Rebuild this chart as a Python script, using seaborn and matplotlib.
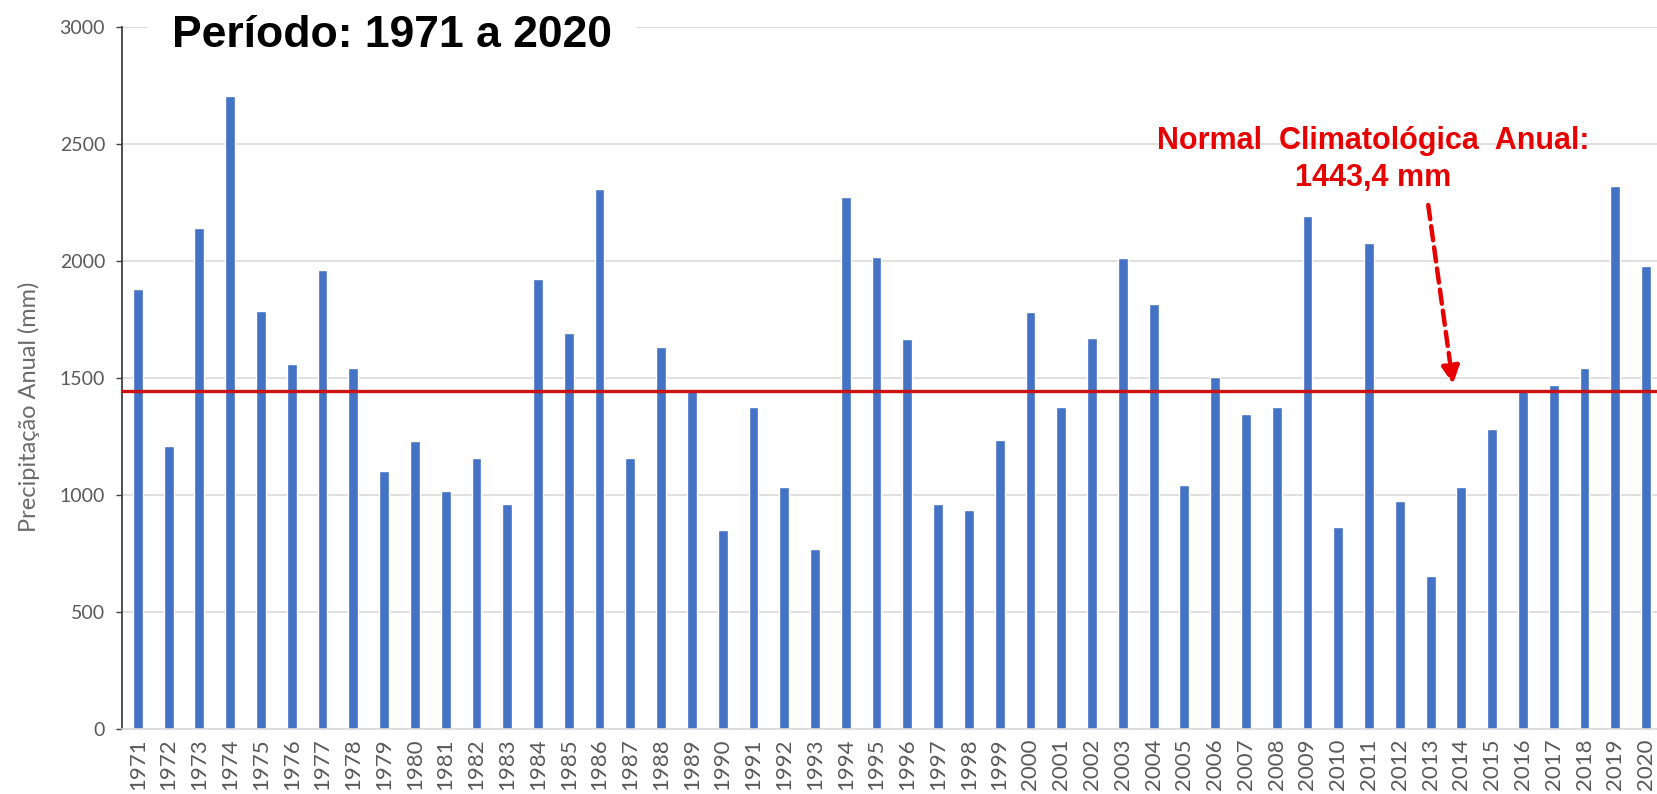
import matplotlib
matplotlib.use("Agg")
import matplotlib.pyplot as plt
import seaborn as sns
import pandas as pd

# dados
anos = ["1971", "1972", "1973", "1974", "1975", "1976", "1977", "1978", "1979", "1980",
        "1981", "1982", "1983", "1984", "1985", "1986", "1987", "1988", "1989", "1990",
        "1991", "1992", "1993", "1994", "1995", "1996", "1997", "1998", "1999", "2000",
        "2001", "2002", "2003", "2004", "2005", "2006", "2007", "2008", "2009", "2010",
        "2011", "2012", "2013", "2014", "2015", "2016", "2017", "2018", "2019", "2020"]
precipitacao = [1882, 1209, 2140, 2705, 1787, 1562, 1960, 1544, 1102, 1229,
                1018, 1159, 961, 1923, 1691, 2307, 1159, 1632, 1443, 852,
                1378, 1036, 769, 2274, 2018, 1665, 961, 935, 1237, 1781,
                1378, 1671, 2011, 1818, 1043, 1505, 1345, 1378, 2191, 863,
                2076, 973, 653, 1036, 1281, 1443, 1472, 1544, 2320, 1980]
yticks = [0, 500, 1000, 1500, 2000, 2500, 3000]
normal = 1443.4

df = pd.DataFrame({"ano": anos, "precipitacao": precipitacao})

sns.set_style("white")
plt.rcParams["font.family"] = ["Lato", "DejaVu Sans"]

fig = plt.figure(figsize=(16.57, 7.94), dpi=100)
ax = fig.add_axes([0.0739, 0.0819, 0.9288, 0.884])

sns.barplot(data=df, x="ano", y="precipitacao", color="#4472C4",
            saturation=1, width=0.32, ax=ax)

ax.set_xlim(-0.5, 49.5)
ax.set_ylim(0, 3000)
ax.set_yticks(yticks)
ax.set_yticklabels([str(v) for v in yticks])
ax.set_xlabel("")
ax.set_ylabel("Precipitação Anual (mm)", fontsize=17, color="#6a6a6a", va="center")
ax.yaxis.set_label_coords(-0.061, 0.459)

ax.yaxis.grid(True, color="#d9d9d9", lw=1.2)
ax.set_axisbelow(True)
for s in ["top", "right"]:
    ax.spines[s].set_visible(False)
ax.spines["left"].set_color("#404040")
ax.spines["left"].set_linewidth(1.3)
ax.spines["bottom"].set_color("#d9d9d9")
ax.spines["bottom"].set_linewidth(1.2)

ax.tick_params(axis="y", direction="out", length=4.5, width=1, color="#404040",
               labelsize=14, labelcolor="#595959", pad=8, left=True)
ax.tick_params(axis="x", length=0, labelsize=16, labelcolor="#595959",
               labelrotation=90, pad=7)

# linha da normal
ax.axhline(normal, color="#cc1111", lw=2.4, zorder=3)

vermelho = "#e60000"
ax.text(40.14, 2515, "Normal  Climatológica  Anual:", ha="center", va="center",
        fontsize=22, fontweight="bold", color=vermelho, family="Liberation Sans")
ax.text(40.14, 2357, "1443,4 mm", ha="center", va="center",
        fontsize=22, fontweight="bold", color=vermelho, family="Liberation Sans")
ax.annotate("", xy=(42.74, 1462), xytext=(41.91, 2251),
            arrowprops=dict(arrowstyle="-|>", color=vermelho, lw=3.2,
                            linestyle=(0, (3.2, 1.6)), mutation_scale=26))

# titulo sobre a linha de 3000
ax.text(8.25, 2962, "Período: 1971 a 2020", ha="center", va="center",
        fontsize=32, fontweight="bold", color="black", family="Liberation Sans",
        bbox=dict(facecolor="white", edgecolor="none", pad=18), clip_on=False)

fig.savefig("out.png", dpi=100)
